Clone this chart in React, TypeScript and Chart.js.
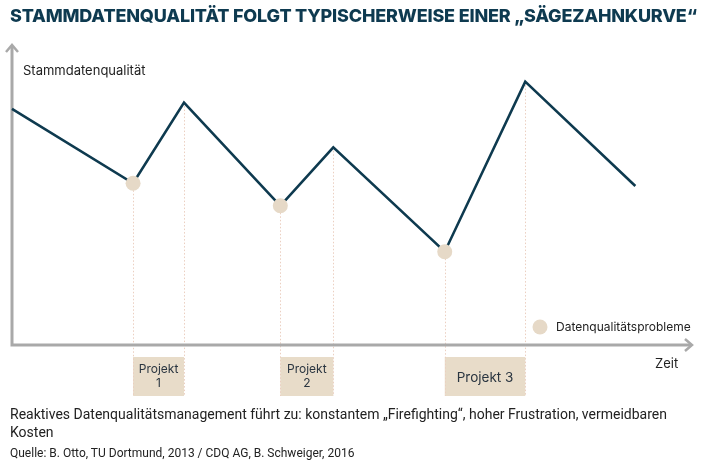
import React, { useEffect, useRef } from "react";
import { Chart, registerables } from "chart.js";

Chart.register(...registerables);

const TITLE = "STAMMDATENQUALITÄT FOLGT TYPISCHERWEISE EINER „SÄGEZAHNKURVE“";
const Y_LABEL = "Stammdatenqualität";
const X_LABEL = "Zeit";
const LEGEND_LABEL = "Datenqualitätsprobleme";
const NOTE_TEXT = "Reaktives Datenqualitätsmanagement führt zu: konstantem „Firefighting“, hoher Frustration, vermeidbaren Kosten";
const SOURCE_TEXT = "Quelle: B. Otto, TU Dortmund, 2013 / CDQ AG, B. Schweiger, 2016";

// time (0..100) and quality (0..100) of the saw-tooth curve
const times = [0, 17.6, 25.0, 39.0, 46.7, 62.9, 74.6, 90.6];
const quality = [78.7, 53.9, 80.8, 46.4, 65.9, 31.1, 87.8, 53.0];
// which points are data quality problems (troughs)
const problemPoint = [false, true, false, true, false, true, false, false];

// projects run from a trough to the next peak (indices into the curve)
const projectStartIdx = [1, 3, 5];
const projectEndIdx = [2, 4, 6];
const projectLabels = [["Projekt", "1"], ["Projekt", "2"], ["Projekt 3"]];

const LINE_COLOR = "#0e3a4f";
const DOT_COLOR = "#e6d9c7";
const BOX_COLOR = "#e8dcc9";
const DOT_LINE_COLOR = "#ebcfc0";
const AXIS_COLOR = "#a9a9a9";
const TEXT_COLOR = "#222222";

const overlayPlugin = {
  id: "sawOverlay",
  beforeDatasetsDraw(chart: any) {
    const { ctx, chartArea, scales } = chart;
    const xs = scales.x;
    const ys = scales.y;
    const axisY = chartArea.bottom;
    const axisX = chartArea.left;
    const arrowX = chartArea.right - 8;
    const boxTop = axisY + 12;
    const boxBottom = axisY + 51;

    ctx.save();
    // project boxes
    projectStartIdx.forEach((s, i) => {
      const x0 = xs.getPixelForValue(times[s]);
      const x1 = xs.getPixelForValue(times[projectEndIdx[i]]);
      ctx.fillStyle = BOX_COLOR;
      ctx.fillRect(x0, boxTop, x1 - x0, boxBottom - boxTop);
    });
    // dotted guide lines
    ctx.strokeStyle = DOT_LINE_COLOR;
    ctx.lineWidth = 1;
    ctx.setLineDash([1.5, 2]);
    projectStartIdx.forEach((s, i) => {
      [s, projectEndIdx[i]].forEach((idx) => {
        const x = Math.round(xs.getPixelForValue(times[idx])) + 0.5;
        ctx.beginPath();
        ctx.moveTo(x, ys.getPixelForValue(quality[idx]));
        ctx.lineTo(x, boxBottom);
        ctx.stroke();
      });
    });
    ctx.setLineDash([]);

    // axes
    ctx.strokeStyle = AXIS_COLOR;
    ctx.lineWidth = 3;
    ctx.lineCap = "butt";
    ctx.beginPath();
    ctx.moveTo(axisX, chartArea.top + 1);
    ctx.lineTo(axisX, axisY);
    ctx.lineTo(arrowX - 1, axisY);
    ctx.stroke();
    ctx.lineWidth = 2.5;
    ctx.lineJoin = "miter";
    // arrow heads
    ctx.beginPath();
    ctx.moveTo(axisX - 6, chartArea.top + 7);
    ctx.lineTo(axisX, chartArea.top);
    ctx.lineTo(axisX + 6, chartArea.top + 7);
    ctx.stroke();
    ctx.beginPath();
    ctx.moveTo(arrowX - 7, axisY - 6);
    ctx.lineTo(arrowX, axisY);
    ctx.lineTo(arrowX - 7, axisY + 6);
    ctx.stroke();

    // project labels
    ctx.fillStyle = "#2a3540";
    ctx.textAlign = "center";
    ctx.textBaseline = "middle";
    projectStartIdx.forEach((s, i) => {
      const x0 = xs.getPixelForValue(times[s]);
      const x1 = xs.getPixelForValue(times[projectEndIdx[i]]);
      const cx = (x0 + x1) / 2;
      const lines = projectLabels[i];
      if (lines.length === 1) {
        ctx.font = "13.5px Inter, 'Noto Sans', sans-serif";
        ctx.fillText(lines[0], cx, (boxTop + boxBottom) / 2 + 1);
      } else {
        ctx.font = "12px Inter, 'Noto Sans', sans-serif";
        ctx.fillText(lines[0], cx, boxTop + 12);
        ctx.fillText(lines[1], cx, boxTop + 26);
      }
    });

    // axis labels
    ctx.fillStyle = TEXT_COLOR;
    ctx.textAlign = "left";
    ctx.font = "13px Inter, 'Noto Sans', sans-serif";
    ctx.fillText(Y_LABEL, axisX + 11, chartArea.top + 26);
    ctx.fillText(X_LABEL, arrowX - 37, axisY + 19);

    // legend
    ctx.fillStyle = DOT_COLOR;
    ctx.beginPath();
    ctx.arc(540, axisY - 18, 7.5, 0, Math.PI * 2);
    ctx.fill();
    ctx.fillStyle = TEXT_COLOR;
    ctx.font = "12px Inter, 'Noto Sans', sans-serif";
    ctx.fillText(LEGEND_LABEL, 556, axisY - 18);
    ctx.restore();
  },
};

export default function App() {
  const canvasRef = useRef<HTMLCanvasElement | null>(null);
  const titleRef = useRef<HTMLSpanElement | null>(null);

  useEffect(() => {
    const fit = () => {
      const el = titleRef.current;
      if (!el) return;
      el.style.transform = "none";
      const w = el.offsetWidth;
      if (w > 0) el.style.transform = `scaleX(${687 / w})`;
    };
    fit();
    if ((document as any).fonts) (document as any).fonts.ready.then(fit);
  }, []);

  useEffect(() => {
    if (!canvasRef.current) return;
    const chart = new Chart(canvasRef.current, {
      type: "line",
      data: {
        datasets: [
          {
            data: times.map((t, i) => ({ x: t, y: quality[i] })),
            borderColor: LINE_COLOR,
            borderWidth: 2.6,
            borderJoinStyle: "miter",
            tension: 0,
            pointRadius: problemPoint.map((p) => (p ? 7.5 : 0)),
            pointBackgroundColor: DOT_COLOR,
            pointBorderWidth: 0,
            pointHoverRadius: 0,
            clip: false as any,
          } as any,
        ],
      },
      options: {
        responsive: false,
        animation: false,
        devicePixelRatio: 1,
        layout: { padding: { left: 12, right: 21, top: 45, bottom: 121 } },
        plugins: { legend: { display: false }, tooltip: { enabled: false }, title: { display: false } },
        scales: {
          x: { type: "linear", min: 0, max: 100, display: false },
          y: { type: "linear", min: 0, max: 100, display: false },
        },
      },
      plugins: [overlayPlugin],
    });
    return () => chart.destroy();
  }, []);

  return (
    <div style={{ position: "absolute", left: 0, top: 0, width: 721, height: 466, background: "#fff", overflow: "hidden" }}>
      <canvas ref={canvasRef} width={721} height={466} style={{ position: "absolute", left: 0, top: 0 }} />
      <span
        ref={titleRef}
        style={{
          position: "absolute",
          left: 10,
          top: 5,
          whiteSpace: "nowrap",
          transformOrigin: "left top",
          fontFamily: "Inter, 'Noto Sans', sans-serif",
          fontWeight: 800,
          fontSize: 18,
          lineHeight: "22px",
          color: "#0e3a50",
          letterSpacing: "-0.2px",
        }}
      >
        {TITLE}
      </span>
      <div
        style={{
          position: "absolute",
          left: 10,
          top: 405,
          width: 680,
          fontFamily: "Roboto, 'Noto Sans', sans-serif",
          fontSize: 14,
          lineHeight: "18px",
          color: TEXT_COLOR,
        }}
      >
        {NOTE_TEXT}
      </div>
      <div
        style={{
          position: "absolute",
          left: 10,
          top: 446,
          fontFamily: "Roboto, 'Noto Sans', sans-serif",
          fontSize: 12,
          lineHeight: "14px",
          color: TEXT_COLOR,
          whiteSpace: "nowrap",
        }}
      >
        {SOURCE_TEXT}
      </div>
    </div>
  );
}
